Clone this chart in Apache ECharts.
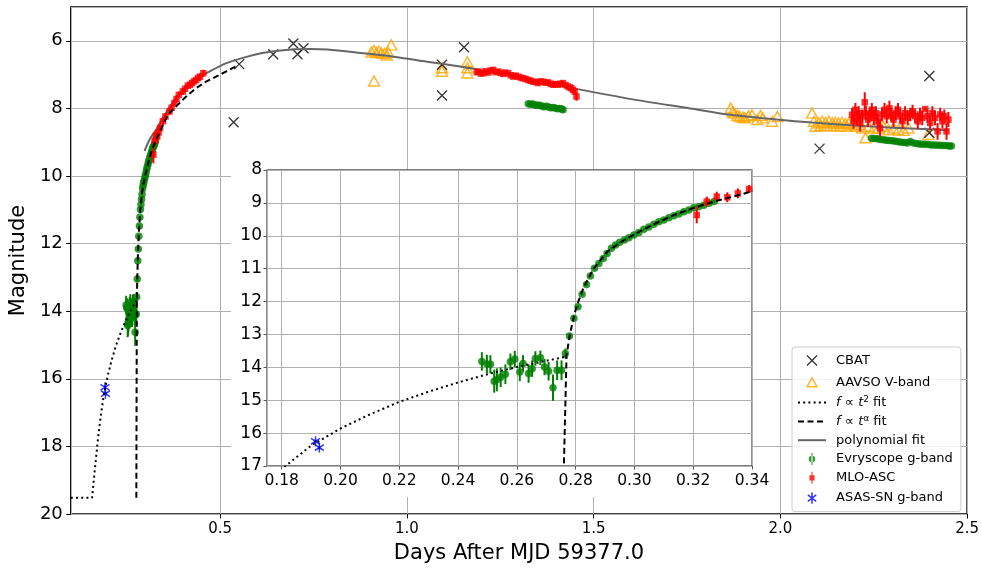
<!DOCTYPE html>
<html><head><meta charset="utf-8">
<script src="https://cdn.jsdelivr.net/npm/echarts@6/dist/echarts.min.js"></script>
<style>html,body{margin:0;padding:0;background:#fff}#c{width:982px;height:569px}</style>
</head><body><div id="c"></div>
<script>
// ---------------- DATA ----------------
const cbatT   = [0.536, 0.551, 0.642, 0.696, 0.707, 0.723, 1.094, 1.094, 1.153, 2.105, 2.399, 2.399];
const cbatMag = [8.41, 6.69, 6.40, 6.08, 6.40, 6.22, 6.71, 7.62, 6.19, 9.19, 7.04, 8.72];

const aavsoT = [0.905,0.912,0.918,0.925,0.932,0.940,0.946,0.950,0.958,0.912,
  1.094,1.094,1.162,1.162,1.162,
  1.867,1.872,1.876,1.885,1.891,1.900,1.905,1.915,1.924,1.938,1.947,1.953,1.978,1.992,
  2.085,2.090,2.094,2.103,2.112,2.121,2.130,2.139,2.147,2.156,2.165,2.174,2.183,2.192,2.201,
  2.210,2.219,2.228,2.236,2.250,2.263,2.276,2.290,2.303,2.316,2.330,2.343,2.396,
  2.108,2.125,2.143,2.160,2.178];
const aavsoMag = [6.33,6.28,6.35,6.31,6.36,6.37,6.42,6.34,6.12,7.19,
  6.80,6.90,6.62,6.80,6.95,
  7.99,8.10,8.14,8.20,8.24,8.26,8.28,8.22,8.19,8.33,8.21,8.28,8.38,8.24,
  8.14,8.38,8.53,8.43,8.38,8.41,8.38,8.43,8.41,8.43,8.41,8.45,8.43,8.48,8.53,
  8.48,8.58,8.87,8.53,8.58,8.58,8.53,8.63,8.58,8.63,8.65,8.58,8.77,
  8.50,8.52,8.50,8.53,8.52];

// Evryscope g-band: early rise, mid segment, late segment
const evryT1 = [0.2481,0.2498,0.2510,0.2523,0.2532,0.2545,0.2561,0.2578,0.2593,0.2610,0.2621,0.2640,0.2652,0.2663,0.2680,0.2694,0.2708,0.2723,0.2737,0.2752,0.2765,
  0.2779,0.2794,0.2808,0.2822,0.2837,0.2850,0.2864,0.2879,0.2894,0.2907,0.2922,0.2936,0.2950,0.2966,0.2981,0.2998,0.3015,0.3032,0.3049,0.3066,0.3083,0.3100,0.3117,0.3134,0.3151,0.3168,0.3185,0.3202,0.3219,0.3236,0.3254,0.3271];
const evryMag1 = [13.82,13.90,13.91,14.42,14.38,14.30,14.21,13.83,13.75,14.14,13.88,14.19,14.04,13.73,13.71,13.99,14.12,14.62,14.09,14.09,13.58,
  13.05,12.51,12.16,11.78,11.48,11.22,10.99,10.84,10.69,10.54,10.38,10.28,10.20,10.13,10.06,9.98,9.90,9.80,9.73,9.65,9.57,9.52,9.45,9.39,9.34,9.27,9.22,9.15,9.12,9.07,9.01,8.96];
const evryErr1 = [0.28,0.28,0.28,0.35,0.35,0.30,0.30,0.25,0.25,0.28,0.25,0.28,0.25,0.22,0.22,0.25,0.28,0.40,0.30,0.30,0.15,
  0.08,0.06,0.05,0.05,0.05,0.04,0.04,0.04,0.04,0.04,0.04,0.04,0.04,0.04,0.04,0.04,0.04,0.04,0.04,0.04,0.04,0.04,0.04,0.04,0.04,0.04,0.04,0.04,0.04,0.04,0.04,0.04];
const evryT2 = [1.325,1.331,1.337,1.343,1.349,1.355,1.361,1.367,1.373,1.379,1.385,1.391,1.397,1.403,1.409,1.415,1.418];
const evryMag2 = [7.86,7.88,7.87,7.90,7.91,7.91,7.93,7.95,7.94,7.96,7.98,7.97,7.99,8.01,8.00,8.02,8.04];
const evryErr2 = [0.02,0.02,0.02,0.02,0.02,0.02,0.02,0.02,0.02,0.02,0.02,0.02,0.02,0.02,0.02,0.02,0.02];
const evryT3 = [2.244,2.252,2.260,2.268,2.276,2.284,2.292,2.300,2.308,2.316,2.324,2.332,2.340,2.348,2.356,2.364,2.372,2.380,2.388,2.396,2.404,2.412,2.420,2.428,2.436,2.444,2.452,2.458];
const evryMag3 = [8.88,8.89,8.90,8.92,8.93,8.94,8.95,8.96,8.97,8.99,9.00,9.01,9.02,8.98,9.02,9.04,9.05,9.06,9.06,9.07,9.08,9.08,9.09,9.09,9.10,9.10,9.11,9.11];
const evryErr3 = [0.02,0.02,0.02,0.02,0.02,0.02,0.02,0.02,0.02,0.02,0.02,0.02,0.02,0.02,0.02,0.02,0.02,0.02,0.02,0.02,0.02,0.02,0.02,0.02,0.02,0.02,0.02,0.02];

// MLO-ASC
const mloT1 = [0.3212,0.3246,0.3280,0.3316,0.3352,0.3390,0.3465,0.3535,0.3641,0.3700,0.3775,0.3830,0.3892,0.3999,0.4060,0.4132,0.4190,0.4247,0.4300,0.4354,0.4410,0.4461,0.4549];
const mloMag1 = [9.37,8.96,8.81,8.83,8.71,8.58,8.38,8.24,8.09,7.98,7.84,7.72,7.60,7.50,7.42,7.33,7.30,7.25,7.20,7.16,7.10,7.06,6.96];
const mloErr1 = [0.25,0.15,0.15,0.15,0.15,0.12,0.12,0.10,0.10,0.10,0.10,0.10,0.10,0.10,0.10,0.10,0.10,0.10,0.10,0.10,0.10,0.10,0.10];
const mloT2 = [1.187,1.191,1.198,1.205,1.211,1.218,1.224,1.231,1.238,1.245,1.251,1.258,1.264,1.271,1.278,1.285,1.291,1.298,1.305,1.311,1.318,1.325,1.331,1.338,1.345,1.351,1.358,1.365,1.371,1.378,1.385,1.391,1.398,1.405,1.411,1.418,1.425,1.431,1.436,1.440,1.445,1.449,1.454];
const mloMag2 = [6.93,6.91,6.97,6.96,6.90,6.94,6.88,6.86,6.93,6.91,6.95,6.98,6.94,6.96,7.02,7.06,7.03,7.06,7.09,7.11,7.13,7.16,7.18,7.21,7.22,7.25,7.20,7.21,7.24,7.23,7.27,7.30,7.28,7.30,7.27,7.25,7.31,7.35,7.38,7.40,7.45,7.50,7.65];
const mloErr2 = [0.06,0.06,0.06,0.06,0.06,0.06,0.06,0.06,0.06,0.06,0.06,0.06,0.06,0.06,0.06,0.06,0.06,0.06,0.06,0.06,0.06,0.06,0.06,0.06,0.06,0.06,0.06,0.06,0.06,0.06,0.06,0.06,0.06,0.06,0.06,0.06,0.06,0.06,0.06,0.06,0.08,0.08,0.12];
const mloT3 = [2.192,2.196,2.201,2.205,2.210,2.214,2.219,2.226,2.229,2.235,2.241,2.245,2.250,2.256,2.261,2.267,2.272,2.279,2.285,2.292,2.297,2.303,2.309,2.315,2.321,2.327,2.334,2.341,2.348,2.354,2.361,2.368,2.374,2.380,2.388,2.394,2.401,2.407,2.414,2.421,2.428,2.434,2.439,2.445,2.450];
const mloMag3 = [8.19,8.38,8.04,8.28,8.14,8.43,8.23,7.82,8.14,8.33,8.18,8.04,8.28,8.14,8.38,8.58,8.18,8.04,8.23,7.99,8.18,8.33,8.14,8.04,8.23,8.38,8.14,8.28,8.18,8.09,8.23,8.38,8.18,8.28,8.02,8.23,8.43,8.14,8.28,8.68,8.18,8.38,8.23,8.68,8.33];
const mloErr3 = [0.20,0.22,0.20,0.22,0.20,0.25,0.20,0.30,0.22,0.22,0.20,0.20,0.22,0.20,0.22,0.25,0.20,0.20,0.22,0.22,0.20,0.22,0.20,0.20,0.22,0.22,0.20,0.22,0.20,0.20,0.20,0.22,0.20,0.22,0.05,0.20,0.22,0.20,0.22,0.25,0.20,0.22,0.20,0.25,0.22];

// ASAS-SN g-band
const asasT = [0.1915, 0.1928];
const asasMag = [16.25, 16.44];
const asasErr = [0.05, 0.05];

// f ∝ t^2 fit (dotted)
const fit2T = [0.100,0.157,0.164,0.173,0.181,0.190,0.200,0.210,0.220,0.230,0.240,0.250,0.260,0.270,0.2765];
const fit2Mag = [19.52,19.52,18.72,17.75,17.02,16.38,15.86,15.43,15.05,14.74,14.46,14.21,13.99,13.80,13.68];

// f ∝ t^alpha fit (dashed)
const fitAT = [0.2755,0.2760,0.2769,0.2780,0.2794,0.2805,0.2828,0.2862,0.2907,0.2953,0.2998,0.3066,0.3134,0.3202,0.3271,0.3339,0.3420,0.3599,0.3820,0.4087,0.4354,0.4621,0.4888,0.5154,0.5480];
const fitAMag = [19.52,17.00,13.63,13.02,12.45,12.10,11.55,10.99,10.49,10.20,9.96,9.65,9.37,9.15,8.96,8.80,8.60,8.19,7.94,7.65,7.40,7.21,7.06,6.91,6.72];

// polynomial fit
const polyT = [0.2975,0.311,0.33,0.35,0.38,0.41,0.44,0.471,0.515,0.556,0.609,0.65,0.698,0.742,0.787,0.876,0.965,1.054,1.142,1.196,1.30,1.457,1.609,1.752,1.867,1.991,2.086,2.19,2.30,2.40,2.45];
const polyMag = [9.26,8.92,8.60,8.22,7.72,7.37,7.10,6.91,6.67,6.52,6.37,6.30,6.25,6.24,6.26,6.36,6.47,6.62,6.76,6.86,7.09,7.43,7.74,7.99,8.19,8.33,8.42,8.50,8.57,8.62,8.65];

// axis ranges
const mainX = {min: 0.1, max: 2.5};
const mainY = {min: 5, max: 20};
const insetX = {min: 0.175, max: 0.34};
const insetY = {min: 8, max: 17};

// ---------------- BUILD ----------------
const FONT = 'DejaVu Sans';
const GREEN = '#008000', RED = '#ff0000', ORANGE = '#ffa500', BLUE = '#0000ff';
const X_PATH = 'path://M0,0L10,10M10,0L0,10';
const AST_PATH = 'path://M5,0L5,12M0.5,2.5L9.5,9.5M9.5,2.5L0.5,9.5';
const X_ICON = 'path://M5,-1M5,11M0,0L10,10M10,0L0,10';
const TRI_ICON = 'path://M5,-1.5M5,10.5M5,0L10,9L0,9Z';
const AST_ICON = 'path://M5,-0.5M5,12.5M5,0L5,12M0.5,2.5L9.5,9.5M9.5,2.5L0.5,9.5';
const EV_ICON = 'path://M2.9,-0.5H4.1V12.5H2.9Z M0,6A3.5,3.5 0 1 0 7,6A3.5,3.5 0 1 0 0,6Z';
const MLO_ICON = 'path://M2.9,-0.5H4.1V12.5H2.9Z M0.7,3.2H6.3V8.8H0.7Z';

function pts(t, m) { return t.map((v, i) => [v, m[i]]); }
function errPts(t, m, e) { return t.map((v, i) => [v, m[i] - e[i], m[i] + e[i]]); }

const evryT = evryT1.concat(evryT2, evryT3), evryMag = evryMag1.concat(evryMag2, evryMag3), evryErr = evryErr1.concat(evryErr2, evryErr3);
const mloT = mloT1.concat(mloT2, mloT3), mloMag = mloMag1.concat(mloMag2, mloMag3), mloErr = mloErr1.concat(mloErr2, mloErr3);

function errSeries(id, t, m, e, color, xi, z) {
  return {
    type: 'custom', name: id, xAxisIndex: xi, yAxisIndex: xi, z: z, silent: true,
    data: errPts(t, m, e), encode: {x: 0, y: [1, 2]},
    renderItem: function (params, api) {
      const p1 = api.coord([api.value(0), api.value(1)]);
      const p2 = api.coord([api.value(0), api.value(2)]);
      const cs = params.coordSys;
      return {
        type: 'line',
        shape: {x1: p1[0], y1: p1[1], x2: p2[0], y2: p2[1]},
        style: {stroke: color, lineWidth: 2},
        clipPath: {type: 'rect', shape: {x: cs.x, y: cs.y, width: cs.width, height: cs.height}}
      };
    }
  };
}
function scatter(name, data, symbol, size, itemStyle, xi, z) {
  return {type: 'scatter', name, xAxisIndex: xi, yAxisIndex: xi, data, symbol, symbolSize: size,
    itemStyle, z, silent: true, clip: true};
}
function line(name, data, lineStyle, xi, z, smooth) {
  return {type: 'line', name, xAxisIndex: xi, yAxisIndex: xi, data, symbol: 'none', showSymbol: false,
    itemStyle: {color: 'rgba(0,0,0,0)'},
    lineStyle, z, smooth: smooth || false, silent: true, clip: true};
}

function seriesFor(xi, inset) {
  const zb = inset ? 4 : 2;
  const s = [];
  if (!inset) {
    s.push(scatter('AAVSO V-band', pts(aavsoT, aavsoMag), 'triangle', [11, 10],
      {color: 'none', borderColor: ORANGE, borderWidth: 1.5}, xi, zb));
    s.push(scatter('CBAT', pts(cbatT, cbatMag), X_PATH, 10,
      {color: 'none', borderColor: '#000', borderWidth: 1.3}, xi, zb));
    s.push(line('polynomial fit', pts(polyT, polyMag), {color: '#666666', width: 2}, xi, zb + 1, 0.3));
  }
  s.push(errSeries('evry-err', evryT, evryMag, evryErr, GREEN, xi, zb + 2));
  s.push(scatter('Evryscope g-band', pts(evryT, evryMag), 'circle', 7.5, {color: GREEN}, xi, zb + 2));
  s.push(errSeries('mlo-err', mloT, mloMag, mloErr, RED, xi, zb + 3));
  s.push(scatter('MLO-ASC', pts(mloT, mloMag), 'rect', 6.5, {color: RED}, xi, zb + 3));
  s.push(errSeries('asas-err', asasT, asasMag, asasErr, BLUE, xi, zb + 3));
  s.push(scatter('ASAS-SN g-band', pts(asasT, asasMag), AST_PATH, [9, 10],
    {color: 'none', borderColor: BLUE, borderWidth: 1.5}, xi, zb + 3));
  s.push(line('fit2', pts(fit2T, fit2Mag), {color: '#000', width: 2, type: [2, 3.2]}, xi, zb + 4));
  s.push(line('fitA', pts(fitAT, fitAMag), {color: '#000', width: 2, type: [6, 3.5]}, xi, zb + 4));
  return s;
}

const chart = echarts.init(document.getElementById('c'), null, {renderer: 'canvas'});
const gridColor = '#b0b0b0';
chart.setOption({
  animation: false,
  backgroundColor: '#fff',
  textStyle: {fontFamily: FONT},
  grid: [
    {left: 69, right: 13, top: 7, bottom: 52, show: true, borderColor: '#000', borderWidth: 1.5, backgroundColor: 'transparent', z: 0},
    {left: 267, top: 170, width: 485, height: 296, show: true, borderColor: '#555', borderWidth: 1.3, backgroundColor: 'transparent', z: 3}
  ],
  graphic: {elements: [
    {type: 'rect', z: 1, zlevel: 0, silent: true, shape: {x: 231, y: 170, width: 521, height: 327}, style: {fill: '#fff'}}
  ]},
  xAxis: [
    {type: 'value', gridIndex: 0, min: mainX.min, max: mainX.max, splitNumber: 5, z: 0,
     name: 'Days After MJD 59377.0', nameLocation: 'middle', nameGap: 29,
     nameTextStyle: {fontSize: 21, color: '#000', fontFamily: FONT},
     axisLine: {show: false}, axisTick: {show: true, length: 4.5, lineStyle: {color: '#000', width: 1}},
     axisLabel: {fontSize: 15, color: '#000', margin: 8, fontFamily: FONT, showMinLabel: false, formatter: v => v.toFixed(1)},
     splitLine: {show: true, lineStyle: {color: gridColor, width: 1}}},
    {type: 'value', gridIndex: 1, min: insetX.min, max: insetX.max, splitNumber: 8, z: 3,
     axisLine: {show: false}, axisTick: {show: true, length: 3.5, lineStyle: {color: '#555', width: 1}},
     axisLabel: {fontSize: 15.5, color: '#000', margin: 7, fontFamily: FONT, showMinLabel: false, formatter: v => v.toFixed(2)},
     splitLine: {show: true, lineStyle: {color: gridColor, width: 1}}}
  ],
  yAxis: [
    {type: 'value', gridIndex: 0, min: mainY.min, max: mainY.max, splitNumber: 7, inverse: true, z: 0,
     name: 'Magnitude', nameLocation: 'middle', nameGap: 40, nameRotate: 90,
     nameTextStyle: {fontSize: 21, color: '#000', fontFamily: FONT},
     axisLine: {show: false}, axisTick: {show: true, length: 4.5, lineStyle: {color: '#000', width: 1}},
     axisLabel: {fontSize: 18, color: '#000', margin: 8, fontFamily: FONT, showMinLabel: false},
     splitLine: {show: true, lineStyle: {color: gridColor, width: 1}}},
    {type: 'value', gridIndex: 1, min: insetY.min, max: insetY.max, interval: 1, inverse: true, z: 3,
     axisLine: {show: false}, axisTick: {show: true, length: 3.5, lineStyle: {color: '#555', width: 1}},
     axisLabel: {fontSize: 17, color: '#000', margin: 5, fontFamily: FONT},
     splitLine: {show: true, lineStyle: {color: gridColor, width: 1}}}
  ],
  legend: {
    orient: 'vertical', left: 792, top: 347, z: 10,
    itemWidth: 28, itemHeight: 12, itemGap: 4.8,
    padding: [5, 8, 5, 5],
    backgroundColor: 'rgba(255,255,255,0.85)', borderColor: '#cccccc', borderWidth: 1, borderRadius: 3,
    textStyle: {fontSize: 13, lineHeight: 14, color: '#000', fontFamily: FONT, padding: [0, 0, 0, 5],
      rich: {
        i: {fontStyle: 'italic', fontSize: 13, lineHeight: 14, fontFamily: FONT, color: '#000'},
        s: {fontSize: 9, lineHeight: 6, fontFamily: FONT, color: '#000', verticalAlign: 'top'}
      }},
    formatter: function (n) {
      if (n === 'fit2') return '{i|f} ∝ {i|t}{s|2} fit';
      if (n === 'fitA') return '{i|f} ∝ {i|t}{s|α} fit';
      return n;
    },
    selectedMode: false,
    data: [
      {name: 'CBAT', icon: X_ICON, itemStyle: {color: 'none', borderColor: '#000', borderWidth: 1.3}},
      {name: 'AAVSO V-band', icon: TRI_ICON, itemStyle: {color: 'none', borderColor: ORANGE, borderWidth: 1.5}},
      {name: 'fit2'},
      {name: 'fitA'},
      {name: 'polynomial fit'},
      {name: 'Evryscope g-band', icon: EV_ICON, itemStyle: {color: GREEN, borderWidth: 0}},
      {name: 'MLO-ASC', icon: MLO_ICON, itemStyle: {color: RED, borderWidth: 0}},
      {name: 'ASAS-SN g-band', icon: AST_ICON, itemStyle: {color: 'none', borderColor: BLUE, borderWidth: 1.5}}
    ]
  },
  series: seriesFor(0, false).concat(seriesFor(1, true))
});
</script></body></html>
